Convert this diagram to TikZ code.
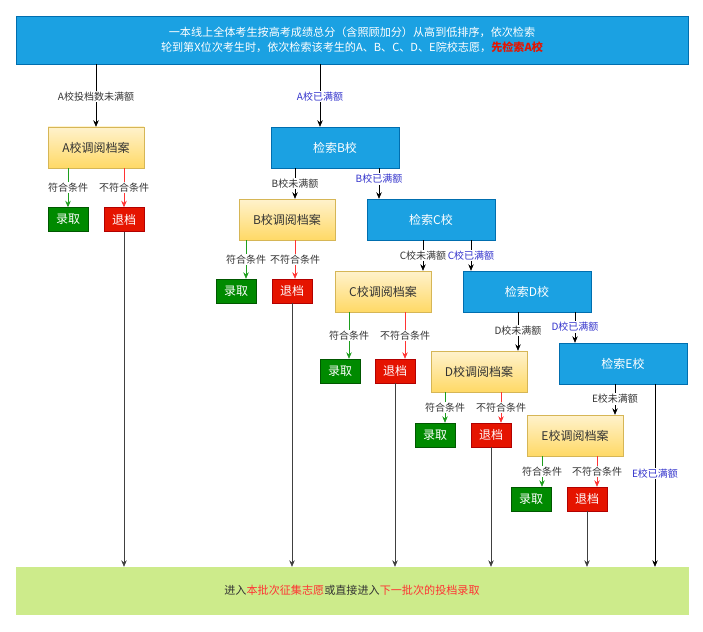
\documentclass[tikz,border=0pt]{standalone}
\usepackage{fontspec}
\setmainfont{Noto Sans CJK SC}
\usetikzlibrary{arrows.meta}
\definecolor{bluebox}{HTML}{1BA1E2}
\definecolor{blueborder}{HTML}{006EAF}
\definecolor{ylight}{HTML}{FFF2CC}
\definecolor{ydark}{HTML}{FFD966}
\definecolor{yborder}{HTML}{D6B656}
\definecolor{okfill}{HTML}{008A00}
\definecolor{okborder}{HTML}{005700}
\definecolor{nofill}{HTML}{E51400}
\definecolor{noborder}{HTML}{B20000}
\definecolor{greenbar}{HTML}{CDEB8B}
\definecolor{lblblue}{HTML}{3333CC}
\definecolor{hlred}{HTML}{FF3333}
\definecolor{topred}{HTML}{E51400}
\definecolor{okline}{HTML}{1E9E1E}
\definecolor{noline}{HTML}{FF3333}
\definecolor{txt}{HTML}{333333}
\tikzset{
  searchbox/.style={draw=blueborder, fill=bluebox, text=white, font=\fontsize{12}{14}\selectfont, minimum width=128pt, minimum height=41pt, inner sep=0pt},
  archbox/.style={draw=yborder, top color=ylight, bottom color=ydark, text=txt, font=\fontsize{12}{14}\selectfont, minimum width=96pt, minimum height=41pt, inner sep=0pt},
  okbox/.style={draw=okborder, fill=okfill, text=white, font=\fontsize{12}{14}\selectfont, minimum width=40pt, minimum height=24pt, inner sep=0pt},
  nobox/.style={draw=noborder, fill=nofill, text=white, font=\fontsize{12}{14}\selectfont, minimum width=40pt, minimum height=24pt, inner sep=0pt},
  lbl/.style={fill=white, text=txt, font=\fontsize{10}{11}\selectfont, inner sep=1pt},
  bluelbl/.style={fill=white, text=lblblue, font=\fontsize{10}{11}\selectfont, inner sep=1pt},
  flow/.style={draw=black, line width=0.7pt, -{Stealth[length=6.5pt,width=5.5pt]}},
  okflow/.style={draw=okline, line width=0.7pt, -{Stealth[length=6.5pt,width=5.5pt]}},
  noflow/.style={draw=noline, line width=0.7pt, -{Stealth[length=6.5pt,width=5.5pt]}},
  outflow/.style={draw=black!75, line width=0.7pt, -{Stealth[length=6.5pt,width=5.5pt]}}
}
\begin{document}
\begin{tikzpicture}[x=1pt,y=-1pt]
\useasboundingbox (0,0) rectangle (703,631);
% top
\node[draw=blueborder, fill=bluebox, text=white, minimum width=672pt, minimum height=48pt, inner sep=0pt, align=center, font=\fontsize{11.1}{15}\selectfont] (top) at (352,40)
  {一本线上全体考生按高考成绩总分（含照顾加分）从高到低排序，依次检索\\轮到第X位次考生时，依次检索该考生的A、B、C、D、E院校志愿，{\color{topred}\bfseries 先检索A校}};
% bottom
\node[draw=greenbar, fill=greenbar, minimum width=672pt, minimum height=47pt, inner sep=0pt, text=txt, font=\fontsize{11.1}{14}\selectfont] (bottom) at (352,590.5)
  {进入{\color{hlred}本批次征集志愿}或直接进入{\color{hlred}下一批次的投档录取}};
% A
\node[archbox] (Aarch) at (96,147.5) {A校调阅档案};
\node[okbox] (Aok) at (68,219.5) {录取};
\node[nobox] (Ano) at (124,219.5) {退档};
% B
\node[searchbox] (Bsearch) at (335,147.5) {检索B校};
\node[archbox] (Barch) at (287,219.5) {B校调阅档案};
\node[okbox] (Bok) at (236,291) {录取};
\node[nobox] (Bno) at (292,291) {退档};
% C
\node[searchbox] (Csearch) at (431,219.5) {检索C校};
\node[archbox] (Carch) at (383,291.5) {C校调阅档案};
\node[okbox] (Cok) at (340,371) {录取};
\node[nobox] (Cno) at (395,371) {退档};
% D
\node[searchbox] (Dsearch) at (527,291.5) {检索D校};
\node[archbox] (Darch) at (479,371.5) {D校调阅档案};
\node[okbox] (Dok) at (435,435) {录取};
\node[nobox] (Dno) at (491,435) {退档};
% E
\node[searchbox] (Esearch) at (623,363.5) {检索E校};
\node[archbox] (Earch) at (575,435.5) {E校调阅档案};
\node[okbox] (Eok) at (531,499) {录取};
\node[nobox] (Eno) at (587,499) {退档};

% top -> A / B
\draw[flow] (Aarch |- top.south) -- node[lbl, pos=0.52]{A校投档数未满额} (Aarch.north);
\draw[flow] (320,0 |- top.south) -- node[bluelbl, pos=0.52]{A校已满额} (320,0 |- Bsearch.north);
% B search
\draw[flow] (295,0 |- Bsearch.south) -- node[lbl]{B校未满额} (295,0 |- Barch.north);
\draw[flow] (379,0 |- Bsearch.south) -- node[bluelbl, pos=0.35]{B校已满额} (379,0 |- Csearch.north);
% C search
\draw[flow] (423,0 |- Csearch.south) -- node[lbl]{C校未满额} (423,0 |- Carch.north);
\draw[flow] (471,0 |- Csearch.south) -- node[bluelbl]{C校已满额} (471,0 |- Dsearch.north);
% D search
\draw[flow] (518,0 |- Dsearch.south) -- node[lbl, pos=0.48]{D校未满额} (518,0 |- Darch.north);
\draw[flow] (575,0 |- Dsearch.south) -- node[bluelbl, pos=0.48]{D校已满额} (575,0 |- Esearch.north);
% E search
\draw[flow] (615,0 |- Esearch.south) -- node[lbl, pos=0.48]{E校未满额} (615,0 |- Earch.north);
\draw[flow] (655,0 |- Esearch.south) -- node[bluelbl, pos=0.49]{E校已满额} (655,0 |- bottom.north);

% archive -> ok / no
\draw[okflow] (68,0 |- Aarch.south) -- node[lbl]{符合条件} (68,0 |- Aok.north);
\draw[noflow] (124,0 |- Aarch.south) -- node[lbl]{不符合条件} (124,0 |- Ano.north);
\draw[okflow] (246,0 |- Barch.south) -- node[lbl]{符合条件} (246,0 |- Bok.north);
\draw[noflow] (295,0 |- Barch.south) -- node[lbl]{不符合条件} (295,0 |- Bno.north);
\draw[okflow] (349,0 |- Carch.south) -- node[lbl]{符合条件} (349,0 |- Cok.north);
\draw[noflow] (405,0 |- Carch.south) -- node[lbl]{不符合条件} (405,0 |- Cno.north);
\draw[okflow] (445,0 |- Darch.south) -- node[lbl]{符合条件} (445,0 |- Dok.north);
\draw[noflow] (501,0 |- Darch.south) -- node[lbl]{不符合条件} (501,0 |- Dno.north);
\draw[okflow] (542,0 |- Earch.south) -- node[lbl]{符合条件} (542,0 |- Eok.north);
\draw[noflow] (597,0 |- Earch.south) -- node[lbl]{不符合条件} (597,0 |- Eno.north);

% no -> bottom
\draw[outflow] (Ano.south) -- (Ano.south |- bottom.north);
\draw[outflow] (Bno.south) -- (Bno.south |- bottom.north);
\draw[outflow] (Cno.south) -- (Cno.south |- bottom.north);
\draw[outflow] (Dno.south) -- (Dno.south |- bottom.north);
\draw[outflow] (Eno.south) -- (Eno.south |- bottom.north);
\end{tikzpicture}
\end{document}
